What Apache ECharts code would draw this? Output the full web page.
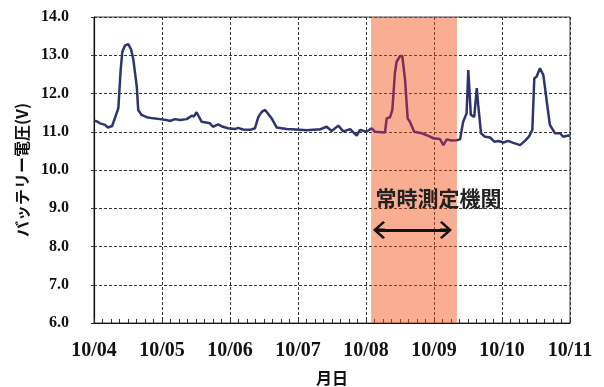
<!DOCTYPE html>
<html>
<head>
<meta charset="utf-8">
<script src="https://cdn.jsdelivr.net/npm/echarts@6/dist/echarts.min.js"></script>
<style>
  html, body { margin: 0; padding: 0; background: #fff; }
  #chart { width: 604px; height: 387px; }
</style>
</head>
<body>
<div id="chart"></div>
<script>
// hours since 10/04 00:00
const hours = [0, 1.1, 2.1, 3.9, 4.9, 6.4, 7.4, 8.6, 9.4, 10.0, 10.9, 12.1, 13.1, 13.9, 15.1, 15.6, 16.8, 18.6, 20.9, 23.3,
  25.4, 26.8, 28.6, 30.4, 32.7, 34.5, 35.3, 36.2, 38.0, 39.5, 40.9, 42.0, 43.8, 45.5, 47.3, 49.8, 50.8, 52.6, 55.1, 56.8,
  58.0, 59.2, 60.4, 61.0, 62.7, 64.5, 68.0, 71.3, 75.1, 78.6, 79.8, 82.1, 83.9, 86.2, 88.0, 90.4, 92.7, 93.9, 96.2, 98.0,
  99.2, 102.7, 103.3, 104.5, 105.3, 106.2, 106.8, 108.0, 108.8, 109.8, 110.7, 111.5, 113.0, 115.7, 118.0, 119.8, 122.1, 123.3, 124.5, 126.2,
  128.0, 129.2, 129.9, 130.3, 131.5, 132.1, 133.0, 134.2, 135.1, 135.6, 136.6, 138.0, 139.8, 141.3, 142.7, 144.5, 146.2, 148.0, 150.4, 152.1,
  153.5, 154.7, 155.4, 156.2, 157.4, 158.6, 159.8, 160.9, 162.7, 164.5, 165.6, 167.4, 168];
const volts = [11.29, 11.27, 11.22, 11.18, 11.11, 11.15, 11.36, 11.62, 12.61, 13.09, 13.25, 13.29, 13.15, 12.88, 12.18, 11.57, 11.44, 11.38, 11.35, 11.33,
  11.31, 11.28, 11.33, 11.31, 11.33, 11.42, 11.40, 11.51, 11.26, 11.24, 11.22, 11.13, 11.19, 11.13, 11.09, 11.07, 11.10, 11.06, 11.05, 11.09,
  11.39, 11.52, 11.57, 11.61, 11.35, 11.11, 11.07, 11.06, 11.04, 11.06, 11.06, 11.13, 11.02, 11.16, 11.01, 11.07, 10.90, 11.05, 11.00, 11.09,
  11.00, 10.98, 11.35, 11.38, 11.57, 12.53, 12.83, 12.98, 12.98, 12.35, 11.35, 11.26, 11.00, 10.96, 10.89, 10.83, 10.81, 10.65, 10.80, 10.77,
  10.78, 10.80, 11.10, 11.26, 11.48, 12.61, 11.44, 11.39, 12.14, 11.70, 10.96, 10.87, 10.85, 10.74, 10.76, 10.72, 10.76, 10.71, 10.65, 10.76,
  10.87, 11.05, 12.40, 12.44, 12.66, 12.48, 11.79, 11.18, 10.96, 10.96, 10.87, 10.90, 10.89];
const dayLabels = ['10/04', '10/05', '10/06', '10/07', '10/08', '10/09', '10/10', '10/11'];
const shadeRange = [97.8, 128.1];          // hours, 常時測定機関 period
const arrowRange = [100.6, 124.2];         // hours
const arrowLevel = 8.43;                   // V
const noteText = '常時測定機関';
const notePos = [121.6, 9.27];

const chart = echarts.init(document.getElementById('chart'), null, { renderer: 'canvas' });
const navy = '#2E3470';
const maroon = '#7B2E5C';
const chevron = 'path://M0,0 L9,10 L7.5,12 L1.5,5.3 L1.5,12 L-1.5,12 L-1.5,5.3 L-7.5,12 L-9,10 Z';

chart.setOption({
  animation: false,
  backgroundColor: '#fff',
  grid: { left: 94, right: 34, top: 17, bottom: 64, outerBoundsMode: 'none', containLabel: false,
    show: true, borderColor: '#444', borderWidth: 1 },
  xAxis: {
    type: 'value', min: 0, max: 168, interval: 24,
    name: '月日', nameLocation: 'middle', nameGap: 47,
    nameTextStyle: { fontFamily: 'Noto Sans CJK JP', fontWeight: 'bold', fontSize: 16, color: '#111' },
    axisLine: { lineStyle: { color: '#111', width: 1.2 } },
    axisTick: { show: true, inside: true, length: 5, lineStyle: { color: '#333' } },
    minorTick: { show: true, splitNumber: 8, length: 4, lineStyle: { color: '#333' } },
    axisLabel: { margin: 18, fontFamily: 'Liberation Serif', fontWeight: 'bold', fontSize: 20, color: '#111',
      formatter: v => dayLabels[Math.round(v / 24)] },
    splitLine: { show: true, lineStyle: { color: '#333', type: [3, 2], width: 1 } }
  },
  yAxis: {
    type: 'value', min: 6, max: 14, interval: 1,
    name: 'バッテリー電圧(V)', nameLocation: 'middle', nameGap: 64,
    nameTextStyle: { fontFamily: 'Noto Sans CJK JP', fontWeight: 'bold', fontSize: 16, color: '#111' },
    axisLine: { show: true, lineStyle: { color: '#111', width: 1.2 } },
    axisTick: { show: true, length: 3, lineStyle: { color: '#333' } },
    axisLabel: { margin: 25, fontFamily: 'Liberation Serif', fontWeight: 'bold', fontSize: 16, color: '#111',
      formatter: v => v.toFixed(1) },
    splitLine: { show: true, lineStyle: { color: '#333', type: [3, 2], width: 1 } }
  },
  visualMap: {
    show: false, type: 'piecewise', dimension: 0, seriesIndex: 0,
    pieces: [
      { lt: shadeRange[0], color: navy },
      { gte: shadeRange[0], lte: shadeRange[1], color: maroon },
      { gt: shadeRange[1], color: navy }
    ]
  },
  series: [
    {
      type: 'line', z: 2,
      data: hours.map((h, i) => [h, volts[i]]),
      showSymbol: false, symbol: 'none',
      lineStyle: { width: 2.5 },
      markArea: {
        silent: true,
        itemStyle: { color: 'rgba(242,75,17,0.45)' },
        data: [[{ xAxis: shadeRange[0] }, { xAxis: shadeRange[1] }]]
      }
    },
    {
      type: 'line', z: 5, data: [], silent: true,
      markLine: {
        silent: true,
        symbol: [chevron, chevron], symbolSize: [18, 12],
        lineStyle: { color: '#111', width: 3, type: 'solid' },
        label: { show: false },
        data: [[{ coord: [arrowRange[0], arrowLevel] }, { coord: [arrowRange[1], arrowLevel] }]]
      },
      markPoint: {
        silent: true, symbol: 'circle', symbolSize: 0,
        label: { show: true, position: 'inside', formatter: noteText,
          fontFamily: 'Noto Sans CJK JP', fontWeight: 'bold', fontSize: 21, color: '#222' },
        data: [{ coord: notePos }]
      }
    }
  ]
});
</script>
</body>
</html>
